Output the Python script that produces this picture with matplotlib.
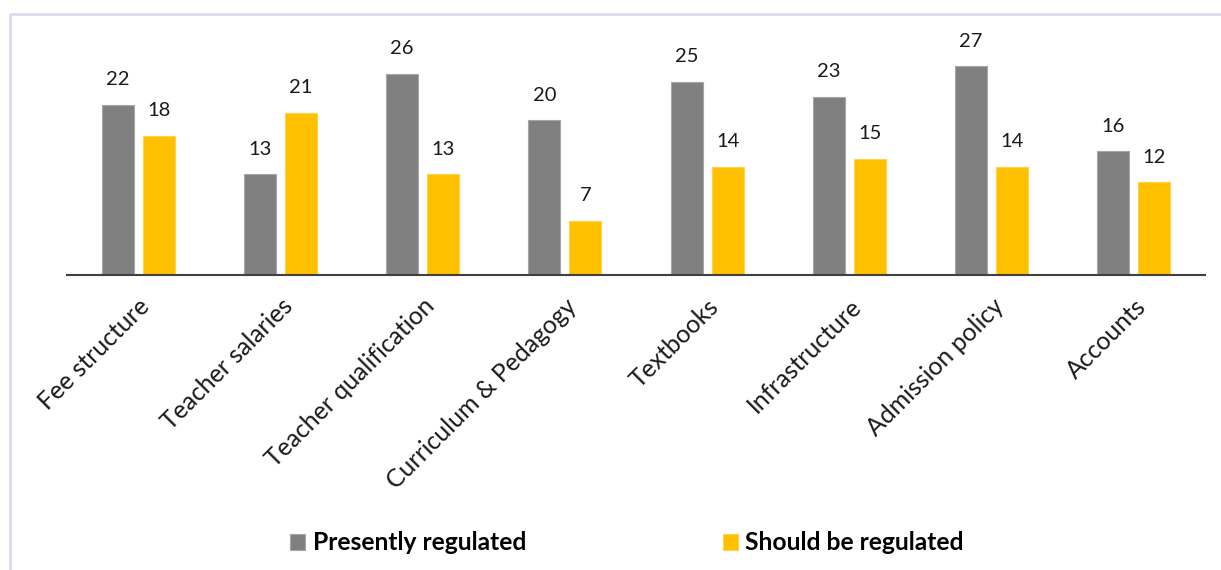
import matplotlib
matplotlib.use("Agg")
import matplotlib.pyplot as plt
import numpy as np

categories = ["Fee structure", "Teacher salaries", "Teacher qualification",
              "Curriculum & Pedagogy", "Textbooks", "Infrastructure",
              "Admission policy", "Accounts"]
presently_regulated = [22, 13, 26, 20, 25, 23, 27, 16]
should_be_regulated = [18, 21, 13, 7, 14, 15, 14, 12]
series_names = ["Presently regulated", "Should be regulated"]

GRAY = "#808080"
GOLD = "#FFC000"
FONT = ["Lato", "DejaVu Sans"]

W, H = 1221, 570
fig = plt.figure(figsize=(W / 100, H / 100), dpi=100)

# light frame around the chart area
frame = plt.Line2D([10 / W, 10 / W, 1.0], [0.0, 1 - 14 / H, 1 - 14 / H],
                   transform=fig.transFigure, color="#D9DCF0", lw=2)
fig.add_artist(frame)

ax = fig.add_axes([67 / W, 295 / H, (1205 - 67) / W, 232 / H])
x = np.arange(len(categories))
bw = 0.225
off = 0.144
b1 = ax.bar(x - off, presently_regulated, bw, color=GRAY, edgecolor="#A6A6A6",
            linewidth=0.8, label=series_names[0])
b2 = ax.bar(x + off, should_be_regulated, bw, color=GOLD, edgecolor="#FFD34D",
            linewidth=0.8, label=series_names[1])

for bars, vals in ((b1, presently_regulated), (b2, should_be_regulated)):
    for r, v in zip(bars, vals):
        ax.annotate(str(v), (r.get_x() + r.get_width() / 2, v),
                    xytext=(0, 12), textcoords="offset points",
                    ha="center", va="bottom", fontsize=14.5,
                    family=FONT, color="#1a1a1a")

ax.set_xlim(-0.5, len(categories) - 0.5)
ax.set_ylim(0, 30)
for s in ("top", "right", "left"):
    ax.spines[s].set_visible(False)
ax.spines["bottom"].set_color("#404040")
ax.spines["bottom"].set_linewidth(1.5)
ax.set_yticks([])
ax.set_xticks(x)
ax.set_xticklabels(categories, rotation=45, ha="right", va="top",
                   rotation_mode="anchor", fontsize=17.8, family=FONT,
                   color="#1a1a1a")
ax.tick_params(axis="x", length=0, pad=14)

fig.legend(handles=[b1, b2], labels=series_names, loc="center",
           bbox_to_anchor=(627 / W, 1 - 543 / H), ncol=2, frameon=False,
           prop={"family": FONT, "weight": "bold", "size": 17.7},
           handlelength=0.62, handleheight=0.62, handletextpad=0.3,
           columnspacing=8.0)

fig.savefig("out.png", dpi=100)
